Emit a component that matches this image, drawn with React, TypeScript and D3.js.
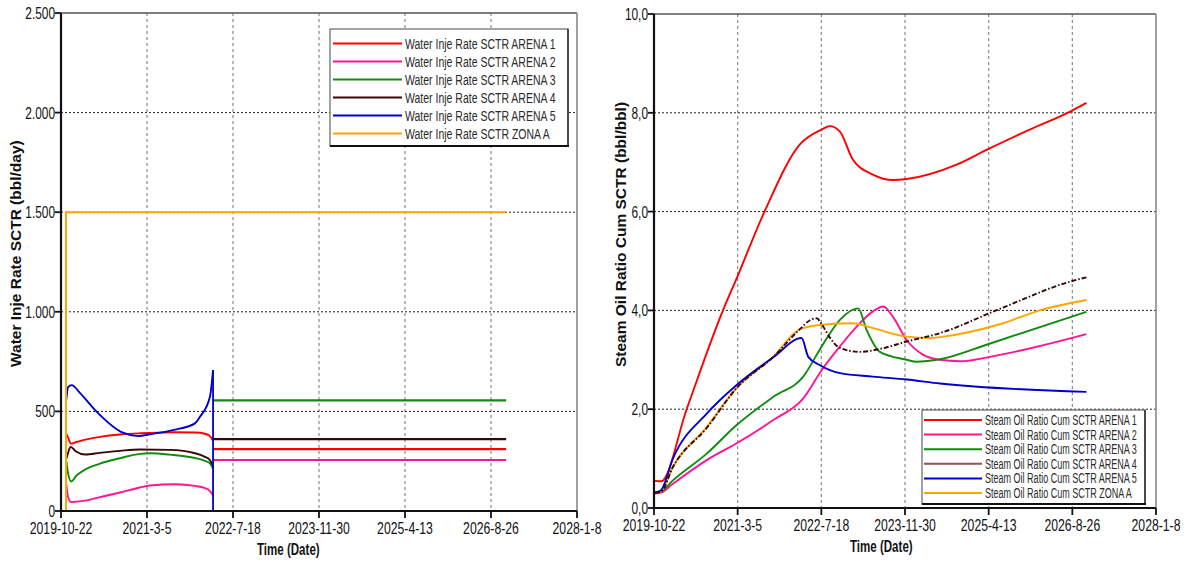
import React from "react";
import * as d3 from "d3";

// ---------- data ----------
const xTickLabels = ["2019-10-22", "2021-3-5", "2022-7-18", "2023-11-30", "2025-4-13", "2026-8-26", "2028-1-8"];

const leftYTicks = [0, 500, 1000, 1500, 2000, 2500];
const leftYTickLabels = ["0", "500", "1.000", "1.500", "2.000", "2.500"];
const rightYTicks = [0, 2, 4, 6, 8, 10];
const rightYTickLabels = ["0,0", "2,0", "4,0", "6,0", "8,0", "10,0"];

type Pt = [string, number];

const injStepDate = "2022-03-24";
const injEndDate = "2026-11-22";

const waterArena1: Pt[] = [["2019-11-22", 388], ["2019-12-02", 368], ["2019-12-20", 338], ["2020-01-15", 345], ["2020-03-10", 358], ["2020-06-05", 372], ["2020-09-29", 384], ["2021-01-23", 390], ["2021-03-22", 392], ["2021-08-15", 395], ["2021-12-09", 394], ["2022-02-05", 388], ["2022-03-06", 376], ["2022-03-24", 352]];
const waterArena1After = 311;
const waterArena2: Pt[] = [["2019-11-22", 135], ["2019-12-02", 70], ["2019-12-20", 45], ["2020-03-10", 52], ["2020-06-05", 70], ["2020-09-29", 93], ["2021-01-23", 118], ["2021-03-22", 128], ["2021-08-15", 134], ["2021-12-09", 126], ["2022-02-05", 115], ["2022-03-06", 100], ["2022-03-24", 78]];
const waterArena2After = 256;
const waterArena3: Pt[] = [["2019-11-22", 250], ["2019-12-02", 190], ["2019-12-20", 148], ["2020-01-20", 178], ["2020-03-10", 208], ["2020-06-05", 238], ["2020-09-29", 265], ["2021-01-23", 287], ["2021-03-22", 290], ["2021-07-17", 283], ["2021-12-09", 266], ["2022-02-05", 252], ["2022-03-06", 240], ["2022-03-24", 212]];
const waterArena3After = 555;
const waterArena4: Pt[] = [["2019-11-22", 262], ["2019-12-02", 292], ["2019-12-17", 322], ["2020-01-15", 300], ["2020-03-10", 284], ["2020-06-05", 292], ["2020-09-29", 302], ["2021-01-23", 309], ["2021-07-17", 307], ["2021-12-09", 290], ["2022-02-05", 272], ["2022-03-06", 255], ["2022-03-24", 228]];
const waterArena4After = 361;
const waterArena5: Pt[] = [["2019-11-22", 560], ["2019-12-02", 622], ["2019-12-23", 632], ["2020-02-10", 592], ["2020-05-17", 498], ["2020-10-16", 393], ["2021-01-12", 376], ["2021-03-22", 385], ["2021-08-03", 406], ["2021-12-09", 440], ["2022-01-07", 473], ["2022-03-06", 574], ["2022-03-24", 708]];
const waterArena5After = 0;
const waterZonaA: Pt[] = [["2019-10-22", 0], ["2019-11-20", 0], ["2019-11-20", 1500], ["2026-11-22", 1500]];

const sorArena1: Pt[] = [["2019-10-28", 0.55], ["2019-12-03", 0.54], ["2020-05-04", 2.0], ["2020-12-07", 4.0], ["2021-02-27", 4.65], ["2021-08-15", 6.02], ["2022-03-12", 7.36], ["2022-07-20", 7.66], ["2022-09-07", 7.73], ["2022-11-06", 7.62], ["2023-01-23", 7.05], ["2023-05-22", 6.75], ["2023-09-19", 6.64], ["2023-12-10", 6.66], ["2024-10-03", 6.95], ["2025-03-31", 7.25], ["2025-12-14", 7.66], ["2026-08-10", 8.02], ["2026-11-18", 8.2]];
const sorArena2: Pt[] = [["2019-10-28", 0.29], ["2019-12-03", 0.31], ["2020-02-12", 0.49], ["2020-09-01", 0.97], ["2021-02-27", 1.31], ["2021-10-04", 1.78], ["2022-04-01", 2.22], ["2022-07-20", 2.79], ["2022-11-06", 3.27], ["2023-02-14", 3.67], ["2023-05-22", 3.98], ["2023-07-23", 4.08], ["2023-09-19", 3.87], ["2023-12-10", 3.4], ["2024-03-18", 3.1], ["2024-06-26", 3.0], ["2024-10-23", 2.97], ["2025-06-18", 3.1], ["2026-11-18", 3.52]];
const sorArena3: Pt[] = [["2019-10-28", 0.31], ["2019-12-03", 0.33], ["2020-02-12", 0.56], ["2020-09-01", 1.1], ["2021-02-27", 1.68], ["2021-10-04", 2.25], ["2022-04-01", 2.66], ["2022-07-20", 3.27], ["2022-11-06", 3.81], ["2023-02-23", 4.04], ["2023-04-15", 3.6], ["2023-07-03", 3.16], ["2023-12-10", 3.0], ["2024-02-07", 2.96], ["2024-06-26", 3.01], ["2025-04-13", 3.32], ["2026-11-18", 3.97]];
const sorArena4: Pt[] = [["2019-10-28", 0.31], ["2019-12-03", 0.33], ["2020-02-12", 0.83], ["2020-09-01", 1.62], ["2021-02-27", 2.43], ["2021-10-04", 3.06], ["2022-03-12", 3.62], ["2022-05-11", 3.8], ["2022-06-20", 3.84], ["2022-07-20", 3.72], ["2022-09-07", 3.45], ["2022-11-06", 3.24], ["2023-03-06", 3.16], ["2023-07-03", 3.22], ["2023-12-10", 3.37], ["2024-06-26", 3.54], ["2025-06-18", 4.03], ["2026-08-10", 4.58], ["2026-11-18", 4.67]];
const sorArena5: Pt[] = [["2019-10-28", 0.31], ["2019-12-03", 0.36], ["2020-02-12", 1.0], ["2020-09-01", 1.91], ["2021-02-27", 2.49], ["2021-10-04", 3.05], ["2022-03-22", 3.44], ["2022-05-01", 3.06], ["2022-07-10", 2.89], ["2022-11-06", 2.73], ["2023-05-22", 2.66], ["2023-12-10", 2.6], ["2024-06-26", 2.52], ["2026-11-18", 2.35]];
const sorZonaA: Pt[] = [["2019-10-28", 0.31], ["2019-12-03", 0.34], ["2020-02-12", 0.83], ["2020-09-01", 1.64], ["2021-02-27", 2.43], ["2021-10-04", 3.06], ["2022-03-12", 3.62], ["2022-07-28", 3.71], ["2023-01-23", 3.74], ["2023-05-22", 3.64], ["2023-12-10", 3.47], ["2024-04-27", 3.44], ["2024-06-26", 3.46], ["2025-06-18", 3.72], ["2026-02-12", 4.0], ["2026-11-18", 4.21]];

const leftNames = ["Water Inje Rate SCTR ARENA 1", "Water Inje Rate SCTR ARENA 2", "Water Inje Rate SCTR ARENA 3", "Water Inje Rate SCTR ARENA 4", "Water Inje Rate SCTR ARENA 5", "Water Inje Rate SCTR ZONA A"];
const rightNames = ["Steam Oil Ratio Cum SCTR ARENA 1", "Steam Oil Ratio Cum SCTR ARENA 2", "Steam Oil Ratio Cum SCTR ARENA 3", "Steam Oil Ratio Cum SCTR ARENA 4", "Steam Oil Ratio Cum SCTR ARENA 5", "Steam Oil Ratio Cum SCTR ZONA A"];
const seriesColors = ["#ff0000", "#ff1493", "#118a11", "#3a0505", "#0000cc", "#ffa500"];
const rightLegendColors = ["#ff0000", "#ff1493", "#118a11", "#8b5555", "#0000cc", "#ffa500"];

// ---------- helpers ----------
const FONT = "'Liberation Sans', Arial, Helvetica, sans-serif";
const pd = (s: string) => {
  const [y, m, d] = s.split("-").map(Number);
  return new Date(y, m - 1, d);
};

function T(props: any) {
  const { x, y, size, anchor = "start", weight = "normal", sx = 0.73, rot = 0, children, fill = "#111" } = props;
  const tr = `translate(${x},${y}) scale(${sx},1)` + (rot ? ` rotate(${rot})` : "");
  return (
    <text transform={tr} fontSize={size} textAnchor={anchor} fontWeight={weight} fontFamily={FONT} fill={fill}>
      {children}
    </text>
  );
}

type Layer = { pts: Pt[]; color: string; width?: number; dash?: string; smooth?: boolean };

function Panel(props: any) {
  const { px0, px1, py0, py1, yMax, yTicks, yLabels, layers, legend, yTitle, yTitleX } = props;
  const tickDates = xTickLabels.map(pd);
  const x = d3.scaleTime().domain([tickDates[0], tickDates[tickDates.length - 1]]).range([px0, px1]);
  const y = d3.scaleLinear().domain([0, yMax]).range([py1, py0]);
  const mk = (l: Layer) =>
    d3
      .line<Pt>()
      .x((d) => x(pd(d[0])))
      .y((d) => y(d[1]))
      .curve(l.smooth ? d3.curveMonotoneX : d3.curveLinear)(l.pts) || "";
  return (
    <g>
      {tickDates.slice(1, -1).map((d, i) => (
        <line key={"gx" + i} x1={x(d)} x2={x(d)} y1={py0} y2={py1} stroke="#8a8a8a" strokeWidth={1.2} strokeDasharray="3,3" />
      ))}
      {yTicks.slice(1, -1).map((v: number, i: number) => (
        <line key={"gy" + i} x1={px0} x2={px1} y1={y(v)} y2={y(v)} stroke="#222" strokeWidth={1} strokeDasharray="2,2" />
      ))}
      <line x1={px0} x2={px1} y1={py0} y2={py0} stroke="#555" strokeWidth={1.6} />
      <line x1={px1} x2={px1} y1={py0} y2={py1} stroke="#8a8a8a" strokeWidth={1.6} />
      {layers.map((l: Layer, i: number) => (
        <path key={"l" + i} d={mk(l)} fill="none" stroke={l.color} strokeWidth={l.width ?? 1.9} strokeDasharray={l.dash} strokeLinejoin="round" />
      ))}
      <line x1={px0} x2={px0} y1={py0} y2={py1 + 1} stroke="#111" strokeWidth={2.2} />
      <line x1={px0 - 1} x2={px1} y1={py1} y2={py1} stroke="#111" strokeWidth={2.2} />
      {yTicks.map((v: number, i: number) => (
        <g key={"yt" + i}>
          <line x1={px0 - 6} x2={px0} y1={y(v)} y2={y(v)} stroke="#111" strokeWidth={1.8} />
          <T x={px0 - 6} y={y(v) + 6} size={16.5} anchor="end" sx={0.72}>
            {yLabels[i]}
          </T>
        </g>
      ))}
      {tickDates.map((d, i) => (
        <g key={"xt" + i}>
          <line x1={x(d)} x2={x(d)} y1={py1} y2={py1 + 7} stroke="#111" strokeWidth={1.8} />
          <T x={x(d)} y={py1 + 23} size={17} anchor="middle" sx={0.72}>
            {xTickLabels[i]}
          </T>
        </g>
      ))}
      <T x={px0 + 196} y={py1 + 44} size={16.5} weight="bold" sx={0.7}>
        Time (Date)
      </T>
      <T x={yTitleX} y={367} size={15.5} weight="bold" sx={0.95} rot={-90} anchor="start">
        {yTitle}
      </T>
      <g>
        <rect x={legend.x} y={legend.y} width={legend.w} height={legend.h} fill="#fff" stroke="#666" strokeWidth={1.2} />
        <line x1={legend.x + legend.w} x2={legend.x + legend.w} y1={legend.y} y2={legend.y + legend.h} stroke="#333" strokeWidth={1.6} />
        <line x1={legend.x} x2={legend.x + legend.w + 1} y1={legend.y + legend.h} y2={legend.y + legend.h} stroke="#111" strokeWidth={2.2} />
        {legend.items.map((it: any, i: number) => {
          const cy = legend.rowY0 + i * legend.rowDy;
          return (
            <g key={"lg" + i}>
              <line x1={legend.lineX0} x2={legend.lineX1} y1={cy} y2={cy} stroke={it.color} strokeWidth={2} />
              <T x={legend.textX} y={cy + legend.size * 0.36} size={legend.size} sx={legend.sx} fill="#2a2a2a">
                {it.label}
              </T>
            </g>
          );
        })}
      </g>
    </g>
  );
}

export default function App() {
  const leftCurves = [waterArena1, waterArena2, waterArena3, waterArena4, waterArena5];
  const leftAfter = [waterArena1After, waterArena2After, waterArena3After, waterArena4After];
  const leftLayers: Layer[] = [];
  leftCurves.forEach((c, i) => leftLayers.push({ pts: c, color: seriesColors[i], smooth: true }));
  leftAfter.forEach((v, i) =>
    leftLayers.push({ pts: [[injStepDate, v], [injEndDate, v]], color: seriesColors[i], width: 2.2 })
  );
  leftLayers.push({
    pts: [[injStepDate, waterArena5[waterArena5.length - 1][1]], [injStepDate, waterArena5After], [injEndDate, waterArena5After]],
    color: seriesColors[4],
    width: 1.8,
  });
  leftLayers.push({ pts: waterZonaA, color: seriesColors[5], width: 2 });

  const rightSeries = [sorArena1, sorArena2, sorArena3, sorZonaA, sorArena5, sorArena4];
  const rightColorIdx = [0, 1, 2, 5, 4, 3];
  const rightLayers: Layer[] = rightSeries.map((s, k) => ({
    pts: s,
    color: seriesColors[rightColorIdx[k]],
    smooth: true,
    width: 1.9,
    dash: rightColorIdx[k] === 3 ? "5,2,1.5,2" : undefined,
  }));

  return (
    <svg width={1189} height={569} style={{ position: "absolute", left: 0, top: 0, background: "#fff" }}>
      <rect x={0} y={0} width={1189} height={569} fill="#fff" />
      <Panel
        px0={61}
        px1={577}
        py0={13}
        py1={511}
        yMax={2500}
        yTicks={leftYTicks}
        yLabels={leftYTickLabels}
        layers={leftLayers}
        yTitle="Water Inje Rate SCTR (bbl/day)"
        yTitleX={21}
        legend={{
          x: 330, y: 29, w: 238, h: 117, rowY0: 43.5, rowDy: 18, lineX0: 333, lineX1: 402, textX: 405, size: 15, sx: 0.7,
          items: leftNames.map((n, i) => ({ label: n, color: seriesColors[i] })),
        }}
      />
      <Panel
        px0={654}
        px1={1156}
        py0={14}
        py1={508}
        yMax={10}
        yTicks={rightYTicks}
        yLabels={rightYTickLabels}
        layers={rightLayers}
        yTitle="Steam Oil Ratio Cum SCTR (bbl/bbl)"
        yTitleX={626}
        legend={{
          x: 922, y: 410, w: 223, h: 94, rowY0: 420, rowDy: 14.6, lineX0: 924, lineX1: 982, textX: 985, size: 14, sx: 0.645,
          items: rightNames.map((n, i) => ({ label: n, color: rightLegendColors[i] })),
        }}
      />
    </svg>
  );
}
